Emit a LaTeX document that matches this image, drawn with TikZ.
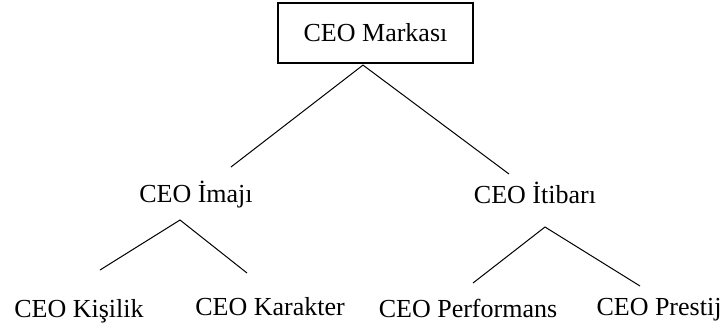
\documentclass[tikz,border=0pt]{standalone}
\usepackage{fontspec}
\setmainfont{Liberation Serif}
\usepackage{tikz}
\usetikzlibrary{positioning,calc}

\begin{document}
\begin{tikzpicture}[
            x=0.5pt, y=-0.5pt,
            block/.style={rectangle, draw, line width=0.6pt, minimum width=97.5pt, minimum height=30pt, align=center, font=\fontsize{13}{15}\selectfont},
            term/.style={anchor=base, inner sep=0pt, font=\fontsize{13}{15}\selectfont},
            branch/.style={line width=0.5pt}
        ]
        \useasboundingbox (0,0) rectangle (727,332);
        \node[block] (markasi) at (375.5,33) {CEO Markası};
        \node[term] (imaji) at (196,202) {CEO İmajı};
        \node[term] (itibari) at (535,203) {CEO İtibarı};
        \node[term] (kisilik) at (79,317) {CEO Kişilik};
        \node[term] (karakter) at (270,315) {CEO Karakter};
        \node[term] (performans) at (468,317) {CEO Performans};
        \node[term] (prestij) at (659,315) {CEO Prestij};

        \draw[branch] ($(imaji.base)+(35,-35)$) -- ($(markasi.south)+(-12.5,1.5)$) -- ($(itibari.base)+(-26,-29)$);
        \draw[branch] ($(kisilik.base)+(21,-47)$) -- ($(imaji.base)+(-16,18)$) -- ($(karakter.base)+(-23,-42)$);
        \draw[branch] ($(performans.base)+(5,-34)$) -- ($(itibari.base)+(10,24)$) -- ($(prestij.base)+(-19,-29)$);
        \end{tikzpicture}
\end{document}
